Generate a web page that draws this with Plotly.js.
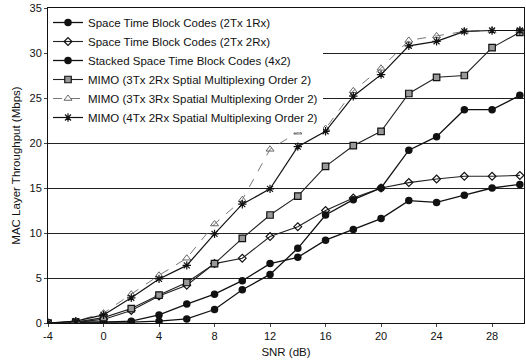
<!DOCTYPE html>
<html>
<head>
<meta charset="utf-8">
<script src="https://cdn.plot.ly/plotly-3.0.1.min.js"></script>
<style>html,body{margin:0;padding:0;background:#fff;}#chart{width:526px;height:362px;}</style>
</head>
<body>
<div id="chart"></div>
<script>
const snr = [-4,-2,0,2,4,6,8,10,12,14,16,18,20,22,24,26,28,30];
const stbc2x1 = [0,0.1,0.1,0.2,0.9,2.1,3.2,4.7,6.6,7.3,9.2,10.4,11.6,13.6,13.4,14.2,15.0,15.4];
const stbc2x2 = [0,0.1,0.4,1.4,3.0,4.2,6.6,7.2,9.6,10.7,12.5,13.9,15.0,15.6,16.0,16.3,16.3,16.4];
const stacked4x2 = [0,0.1,0.1,0.1,0.2,0.45,1.5,3.7,5.4,8.3,12.0,13.7,15.0,19.2,20.7,23.7,23.7,25.3];
const mimo3x2 = [0,0.1,0.6,1.6,3.1,4.5,6.6,9.4,12.0,14.1,17.4,19.7,21.3,25.5,27.3,27.5,30.6,32.3];
const mimo3x3 = [0,0.2,1.1,3.2,5.3,7.2,11.0,13.7,19.3,21.2,21.6,25.8,28.3,31.4,31.9,32.4,32.5,32.5];
const mimo4x2 = [0,0.2,0.9,2.8,4.9,6.4,9.9,13.2,14.9,19.6,21.3,25.2,27.6,30.8,31.3,32.4,32.5,32.5];
const names = [
  "Space Time Block Codes (2Tx 1Rx)",
  "Space Time Block Codes (2Tx 2Rx)",
  "Stacked Space Time Block Codes (4x2)",
  "MIMO (3Tx 2Rx Sptial Multiplexing Order 2)",
  "MIMO (3Tx 3Rx Spatial Multiplexing Order 2)",
  "MIMO (4Tx 2Rx Spatial Multiplexing Order 2)"
];
const xTicks = [-4,0,4,8,12,16,20,24,28];

const traces = [
  {y: stbc2x1, name: names[0], line:{color:'#111',width:1.3}, marker:{symbol:'circle',size:7.5,color:'#111'}},
  {y: stbc2x2, name: names[1], line:{color:'#222',width:1.1}, marker:{symbol:'diamond-open',size:6,color:'#111',line:{width:1.2}}},
  {y: stacked4x2, name: names[2], line:{color:'#111',width:1.3}, marker:{symbol:'circle',size:7.5,color:'#111'}},
  {y: mimo3x2, name: names[3], line:{color:'#222',width:1.1}, marker:{symbol:'square',size:6.5,color:'#999',line:{color:'#111',width:1.2}}},
  {y: mimo3x3, name: names[4], line:{color:'#777',width:1,dash:'dash'}, marker:{symbol:'triangle-up-open',size:7,color:'#666',line:{width:1}}},
  {y: mimo4x2, name: names[5], line:{color:'#111',width:1.2}, marker:{symbol:'asterisk-open',size:7,color:'#111',line:{color:'#111',width:1.2}}}
].map(t => Object.assign({x: snr, type:'scatter', mode:'lines+markers'}, t));

const font = {family:'Liberation Sans, Arial, sans-serif', color:'#111'};
const layout = {
  width:526, height:362,
  margin:{l:48, r:2, t:8, b:39},
  paper_bgcolor:'#fff', plot_bgcolor:'#fff',
  font: Object.assign({size:11}, font),
  showlegend:true,
  legend:{x:0.0, y:1.0, xanchor:'left', yanchor:'top', bgcolor:'#fff', borderwidth:0,
    font:Object.assign({size:11.5}, font), tracegroupgap:0},
  xaxis:{range:[-4,30.3], tickvals:xTicks, ticktext:xTicks.map(String), ticks:'outside', ticklen:3,
    showgrid:false, zeroline:false, showline:true, linecolor:'#111', linewidth:1, mirror:true,
    title:{text:'SNR (dB)', font:Object.assign({size:11.5}, font), standoff:6}, tickfont:Object.assign({size:11}, font)},
  yaxis:{range:[0,35], dtick:5, ticks:'outside', ticklen:3, showgrid:true, gridcolor:'#222', gridwidth:1,
    zeroline:false, showline:true, linecolor:'#111', linewidth:1, mirror:true,
    title:{text:'MAC Layer Throughput (Mbps)', font:Object.assign({size:11.5}, font), standoff:6},
    tickfont:Object.assign({size:11}, font)}
};
Plotly.newPlot('chart', traces, layout, {displayModeBar:false, staticPlot:true});
</script>
</body>
</html>
